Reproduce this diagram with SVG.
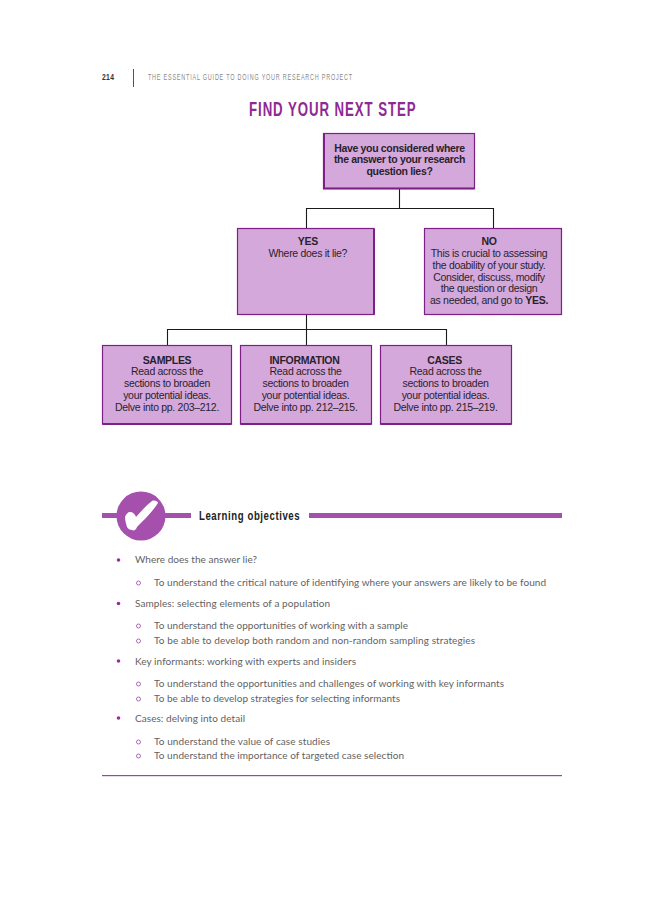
<svg xmlns="http://www.w3.org/2000/svg" width="650" height="901" viewBox="0 0 650 901">
<style>
.box{fill:#d4a8da;stroke:#7d1f86;stroke-width:1.2}
.shade{fill:none;stroke:#7d1f86;stroke-width:2}
.conn{fill:none;stroke:#1a1a1a;stroke-width:1.1}
.t{font-family:"Liberation Sans",Arial,sans-serif;font-size:10.5px;letter-spacing:-.3px;fill:#2a1f2d;text-anchor:middle}
.b{font-weight:700}
.q{font-family:"Liberation Sans",Arial,sans-serif;font-size:10.5px;letter-spacing:-.33px;font-weight:700;fill:#2a1f2d;text-anchor:middle}
.l{font-family:"Lato","Liberation Sans",sans-serif;font-size:10px;fill:#626262}
.dot{fill:#9a2a9e}
.ring{fill:none;stroke:#a65aaf;stroke-width:.9}
</style>
<rect width="650" height="901" fill="#fff"/>
<g id="header">
<text transform="translate(102 80) scale(.8 1)" font-family="'Liberation Sans',sans-serif" font-size="8.5" font-weight="700" fill="#333" textLength="15">214</text>
<rect x="133" y="69" width="1" height="18" fill="#8e2a93"/>
<text transform="translate(148 80) scale(.62 1)" font-family="'Liberation Sans',sans-serif" font-size="8.800" fill="#8a8a8a" textLength="329">THE ESSENTIAL GUIDE TO DOING YOUR RESEARCH PROJECT</text>
</g>
<text id="title" transform="translate(249 116) scale(.68 1)" font-family="'Liberation Sans',sans-serif" font-size="19.500" font-weight="700" fill="#8e2a93" textLength="245">FIND YOUR NEXT STEP</text>
<g id="connectors">
<path class="conn" d="M399.500 189V208.500M306.500 228V208.500H493.500V228"/>
<path class="conn" d="M306.500 315V345M167.500 345V329.500H446.500V345"/>
</g>
<g id="node-question">
<rect class="box" x="323.500" y="133.500" width="151" height="55"/>
<path class="shade" d="M324 134V188.500H474.500"/>
<text class="q" x="399.500" y="152">Have you considered where</text>
<text class="q" x="399.500" y="163">the answer to your research</text>
<text class="q" x="399.500" y="175">question lies?</text>
</g>
<g id="node-yes">
<rect class="box" x="237.500" y="228.500" width="136.500" height="86"/>
<path class="shade" d="M374 228.500V314.500"/>
<text class="t b" x="307.800" y="245">YES</text>
<text class="t" x="307.800" y="257">Where does it lie?</text>
</g>
<g id="node-no">
<rect class="box" x="424.500" y="228.500" width="137" height="86"/>
<text class="t b" x="489" y="245">NO</text>
<text class="t" x="489" y="257">This is crucial to assessing</text>
<text class="t" x="489" y="268.500">the doability of your study.</text>
<text class="t" x="489" y="280.500">Consider, discuss, modify</text>
<text class="t" x="489" y="292">the question or design</text>
<text class="t" x="489" y="304">as needed, and go to <tspan class="b">YES.</tspan></text>
</g>
<g id="node-samples">
<rect class="box" x="102.500" y="345.500" width="129" height="78.500"/>
<path class="shade" d="M102.500 424H231.500"/>
<text class="t b" x="167" y="364">SAMPLES</text>
<text class="t" x="167" y="375">Read across the</text>
<text class="t" x="167" y="387">sections to broaden</text>
<text class="t" x="167" y="399">your potential ideas.</text>
<text class="t" x="167" y="411">Delve into pp. 203–212.</text>
</g>
<g id="node-information">
<rect class="box" x="240.500" y="345.500" width="131" height="78.500"/>
<path class="shade" d="M240.500 424H371.500"/>
<text class="t b" x="304.500" y="364">INFORMATION</text>
<text class="t" x="305.500" y="375">Read across the</text>
<text class="t" x="305.500" y="387">sections to broaden</text>
<text class="t" x="305.500" y="399">your potential ideas.</text>
<text class="t" x="305.500" y="411">Delve into pp. 212–215.</text>
</g>
<g id="node-cases">
<rect class="box" x="380.500" y="345.500" width="131" height="78.500"/>
<path class="shade" d="M380.500 424H511.500"/>
<text class="t b" x="444.500" y="364">CASES</text>
<text class="t" x="445.500" y="375">Read across the</text>
<text class="t" x="445.500" y="387">sections to broaden</text>
<text class="t" x="445.500" y="399">your potential ideas.</text>
<text class="t" x="445.500" y="411">Delve into pp. 215–219.</text>
</g>
<g id="objectives-banner">
<rect x="102" y="513" width="89" height="5" fill="#a650ae"/>
<rect x="309" y="513" width="253" height="5" fill="#a650ae"/>
<circle cx="141" cy="516" r="24.500" fill="#a650ae"/>
<path d="M125 517C126 514 128 512 130 512C133 512 135 514 136 517C141 511 147 505 152 501C154 500 158 501 158 503C153 511 144 520 137 527C136 530 134 531 132 530C130 530 128 529 127 527C126 524 125 520 125 517Z" fill="#fff"/>
<text transform="translate(199 520) scale(.74 1)" font-family="'Liberation Sans',sans-serif" font-size="13" font-weight="700" fill="#222" textLength="136">Learning objectives</text>
</g>
<g id="objectives-list">
<circle class="dot" cx="118.500" cy="560" r="1.800"/>
<text class="l" x="135" y="563" textLength="122">Where does the answer lie?</text>
<circle class="ring" cx="138.500" cy="583" r="2"/>
<text class="l" x="154" y="586" textLength="392">To understand the critical nature of identifying where your answers are likely to be found</text>
<circle class="dot" cx="118.500" cy="603.500" r="1.800"/>
<text class="l" x="135" y="606.500" textLength="195">Samples: selecting elements of a population</text>
<circle class="ring" cx="138.500" cy="626" r="2"/>
<text class="l" x="154" y="629" textLength="254">To understand the opportunities of working with a sample</text>
<circle class="ring" cx="138.500" cy="641" r="2"/>
<text class="l" x="154" y="644" textLength="321">To be able to develop both random and non-random sampling strategies</text>
<circle class="dot" cx="118.500" cy="661" r="1.800"/>
<text class="l" x="135" y="664.500" textLength="221">Key informants: working with experts and insiders</text>
<circle class="ring" cx="138.500" cy="684" r="2"/>
<text class="l" x="154" y="687" textLength="350">To understand the opportunities and challenges of working with key informants</text>
<circle class="ring" cx="138.500" cy="699" r="2"/>
<text class="l" x="154" y="702" textLength="246">To be able to develop strategies for selecting informants</text>
<circle class="dot" cx="118.500" cy="718" r="1.800"/>
<text class="l" x="135" y="721.500" textLength="110">Cases: delving into detail</text>
<circle class="ring" cx="138.500" cy="742" r="2"/>
<text class="l" x="154" y="745" textLength="176">To understand the value of case studies</text>
<circle class="ring" cx="138.500" cy="756" r="2"/>
<text class="l" x="154" y="759" textLength="250">To understand the importance of targeted case selection</text>
</g>
<rect id="rule" x="102" y="775" width="460" height="1.200" fill="#a040a8"/>
</svg>
